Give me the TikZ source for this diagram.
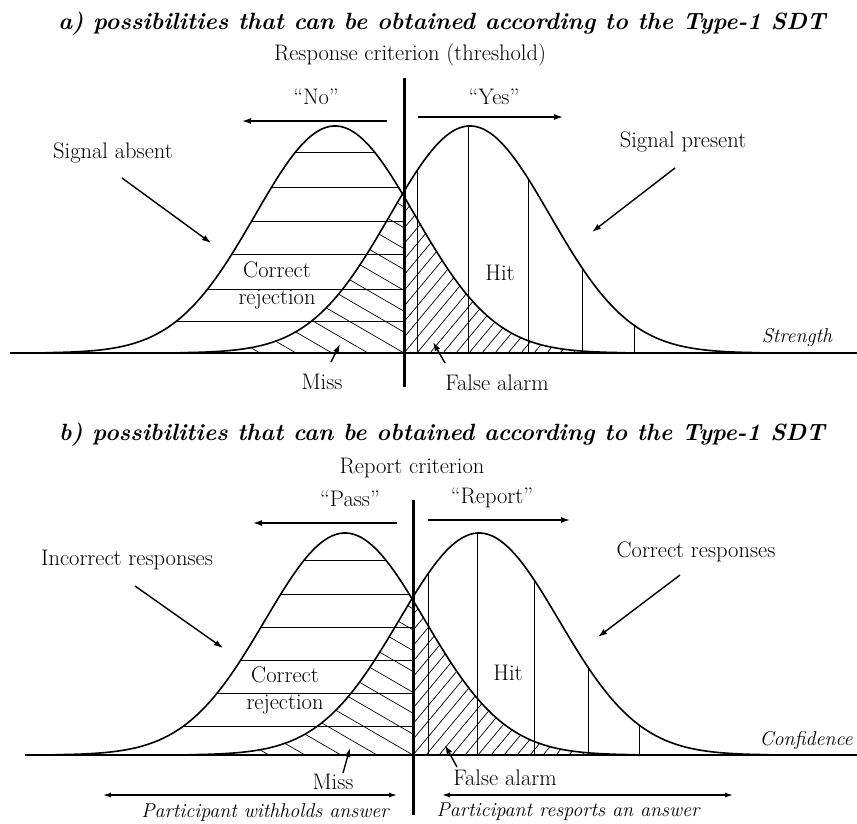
\documentclass[tikz,border=0pt]{standalone}
\usetikzlibrary{arrows.meta}
\tikzset{
 curve/.style={line width=1.6pt},
 axisline/.style={line width=1.5pt},
 crit/.style={line width=3pt},
 hatchline/.style={line width=0.7pt},
 pointer/.style={line width=1.4pt,-{Latex[length=9pt,width=6pt]}},
 dblpointer/.style={line width=1.2pt,{Latex[length=8pt,width=5pt]}-{Latex[length=8pt,width=5pt]}},
 lbl/.style={font=\fontsize{22.5}{27}\selectfont, inner sep=0pt, align=center},
 ilbl/.style={font=\fontsize{20}{24}\selectfont\itshape, inner sep=0pt},
 ttl/.style={font=\fontsize{23.5}{28}\selectfont\bfseries\itshape, inner sep=0pt},
}
\newcommand{\sdtpanel}[7]{%
 \pgfmathsetmacro\sdB{#1}\pgfmathsetmacro\sdC{#2}%
 \pgfmathsetmacro\sdML{#3}\pgfmathsetmacro\sdMR{#4}\pgfmathsetmacro\sdH{#5}%
 \pgfmathsetmacro\sdLa{#3-290}\pgfmathsetmacro\sdLb{#3+290}%
 \pgfmathsetmacro\sdRa{#4-290}\pgfmathsetmacro\sdRb{#4+290}%
 % correct rejection: horizontal lines
 \begin{scope}
  \clip plot[domain=\sdLa:\sdC,samples=100] (\x,{\sdB-\sdH*exp(-0.5*((\x-\sdML)/80)^2)}) -- (\sdC,\sdB) -- cycle;
  \foreach \yy in {#6} \draw[hatchline] (0,\yy) -- (\sdC,\yy);
 \end{scope}
 % miss: back-slash hatch
 \begin{scope}
  \clip plot[domain=\sdRa:\sdC,samples=100] (\x,{\sdB-\sdH*exp(-0.5*((\x-\sdMR)/80)^2)}) -- (\sdC,\sdB) -- cycle;
  \foreach \k in {-9,...,10} \draw[hatchline] ({\sdC-36*\k},\sdB) -- ({\sdC-36*\k-450},{\sdB-0.58*450});
 \end{scope}
 % false alarm: slash hatch
 \begin{scope}
  \clip (\sdC,\sdB) -- plot[domain=\sdC:\sdLb,samples=100] (\x,{\sdB-\sdH*exp(-0.5*((\x-\sdML)/80)^2)}) -- (\sdLb,\sdB) -- cycle;
  \foreach \k in {-14,...,35} \draw[hatchline] ({\sdC+13*\k},\sdB) -- ({\sdC+13*\k+250},{\sdB-1.2*250});
 \end{scope}
 % hit: vertical lines
 \foreach \vx in {#7} \draw[hatchline] (\vx,\sdB) -- (\vx,{\sdB-\sdH*exp(-0.5*((\vx-\sdMR)/80)^2)});
 % curves
 \draw[curve] plot[domain=\sdLa:\sdLb,samples=160] (\x,{\sdB-\sdH*exp(-0.5*((\x-\sdML)/80)^2)});
 \draw[curve] plot[domain=\sdRa:\sdRb,samples=160] (\x,{\sdB-\sdH*exp(-0.5*((\x-\sdMR)/80)^2)});
}
\begin{document}
\begin{tikzpicture}[x=1pt,y=-1pt]
\useasboundingbox[fill=white] (0,0) rectangle (857,823);

% ================= panel a =================
\sdtpanel{353}{404}{335}{470}{227}{152,187,221,254,289,321}{417,468,528,582,634}
\draw[axisline] (10,353) -- (857,353);
\draw[crit] (404,78) -- (404,387);

\node[ttl] (ta) at (442,24) {a) possibilities that can be obtained according to the Type-1 SDT};
\node[lbl] (rca) at (410,55) {Response criterion (threshold)};
\node[lbl] (no) at (316,97) {``No''};
\node[lbl] (yes) at (494,97) {``Yes''};
\coordinate (noS) at (387,121); \coordinate (noE) at (242,121);
\coordinate (yesS) at (418,117); \coordinate (yesE) at (563,117);
\draw[pointer] (noS) -- (noE);
\draw[pointer] (yesS) -- (yesE);
\node[lbl] (sabs) at (113,153) {Signal absent};
\coordinate (sabsS) at (122,178); \coordinate (sabsE) at (211,243);
\draw[pointer] (sabsS) -- (sabsE);
\node[lbl] (spres) at (683,142) {Signal present};
\coordinate (spresS) at (675,168); \coordinate (spresE) at (592,232);
\draw[pointer] (spresS) -- (spresE);
\node[lbl] (cra) at (277,285) {Correct\\rejection};
\node[lbl] (hita) at (500,273) {Hit};
\node[ilbl] (stra) at (797,337) {Strength};
\node[lbl] (missa) at (322,382) {Miss};
\coordinate (missaS) at (331,362); \coordinate (missaE) at (340,344);
\draw[pointer] (missaS) -- (missaE);
\node[lbl] (faa) at (497,383) {False alarm};
\coordinate (faaS) at (445,363); \coordinate (faaE) at (433,342);
\draw[pointer] (faaS) -- (faaE);

% ================= panel b =================
\sdtpanel{755}{413}{345}{479}{222}{560,594,627,660,693,726}{428,477,534,588,639}
\draw[axisline] (25,755) -- (857,755);
\draw[crit] (413,500) -- (413,815);

\node[ttl] (tb) at (442,435) {b) possibilities that can be obtained according to the Type-1 SDT};
\node[lbl] (rcb) at (412,468) {Report criterion};
\node[lbl] (pass) at (350,499) {``Pass''};
\node[lbl] (rep) at (492,498) {``Report''};
\coordinate (passS) at (397,523); \coordinate (passE) at (253,523);
\coordinate (repS) at (428,520); \coordinate (repE) at (570,520);
\draw[pointer] (passS) -- (passE);
\draw[pointer] (repS) -- (repE);
\node[lbl] (incr) at (127,560) {Incorrect responses};
\coordinate (incrS) at (135,586); \coordinate (incrE) at (223,648);
\draw[pointer] (incrS) -- (incrE);
\node[lbl] (corr) at (696,552) {Correct responses};
\coordinate (corrS) at (680,575); \coordinate (corrE) at (598,637);
\draw[pointer] (corrS) -- (corrE);
\node[lbl] (crb) at (285,690) {Correct\\rejection};
\node[lbl] (hitb) at (508,673) {Hit};
\node[ilbl] (conf) at (806,740) {Confidence};
\node[lbl] (missb) at (333,782) {Miss};
\coordinate (missbS) at (343,773); \coordinate (missbE) at (350,748);
\draw[pointer] (missbS) -- (missbE);
\node[lbl] (fab) at (505,778) {False alarm};
\coordinate (fabS) at (457,767); \coordinate (fabE) at (445,745);
\draw[pointer] (fabS) -- (fabE);
\coordinate (wL) at (103,795); \coordinate (wR) at (397,795);
\coordinate (rL) at (442,795); \coordinate (rR) at (733,795);
\draw[dblpointer] (wL) -- (wR);
\draw[dblpointer] (rL) -- (rR);
\node[ilbl] (with) at (265,812) {Participant withholds answer};
\node[ilbl] (resp) at (568,812) {Participant resports an answer};
\end{tikzpicture}
\end{document}
